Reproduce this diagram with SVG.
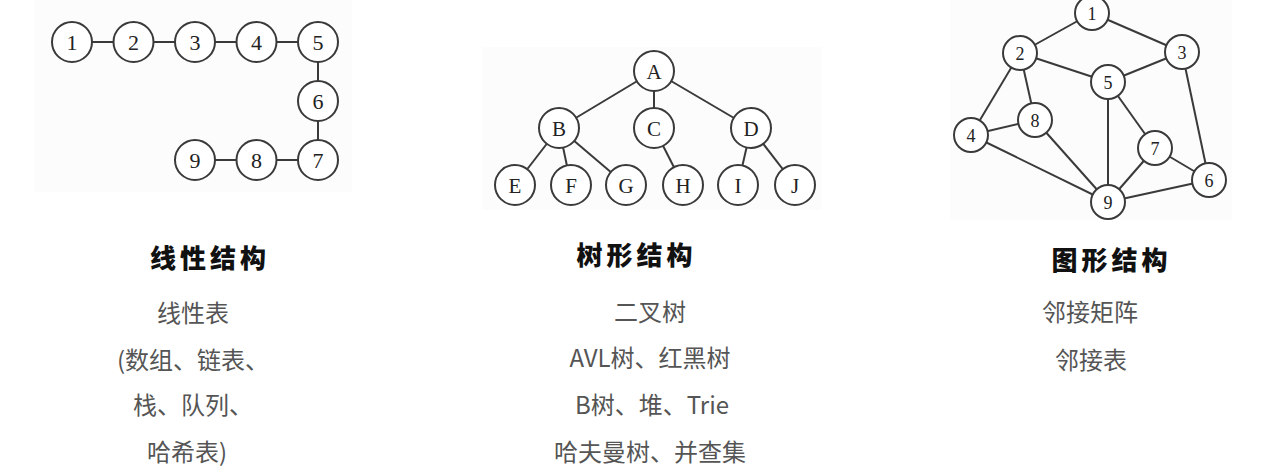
<svg xmlns="http://www.w3.org/2000/svg" width="1277" height="476" viewBox="0 0 1277 476">
<style>
.bg{fill:#fcfcfc}
.n circle{fill:#fff;stroke:#3a3a3a;stroke-width:2}
.n text{font-family:"Liberation Serif",serif;fill:#222;text-anchor:middle}
.lin text{font-size:22px}
.tree text{font-size:21px}
.gr text{font-size:18px}
.edges line{stroke:#3a3a3a;stroke-width:2}
.title{font-family:"Noto Sans CJK SC","Noto Sans CJK JP",sans-serif;font-weight:900;font-size:26px;letter-spacing:4px;fill:#111;text-anchor:middle}
.body{font-family:"Noto Sans CJK SC","Noto Sans CJK JP",sans-serif;font-size:24px;fill:#555;text-anchor:middle}
</style>
<rect width="1277" height="476" fill="#fff"/>
<rect class="bg" x="34" y="0" width="318" height="192"/>
<rect class="bg" x="482" y="47" width="340" height="163"/>
<rect class="bg" x="950" y="0" width="282" height="220"/>

<g id="connectors" class="edges">
  <!-- linear -->
  <line x1="72" y1="42" x2="318" y2="42"/>
  <line x1="318" y1="42" x2="318" y2="160"/>
  <line x1="318" y1="160" x2="195" y2="160"/>
  <!-- tree -->
  <line x1="654" y1="71" x2="559" y2="128"/>
  <line x1="654" y1="71" x2="654" y2="128"/>
  <line x1="654" y1="71" x2="751" y2="128"/>
  <line x1="559" y1="128" x2="515" y2="185"/>
  <line x1="559" y1="128" x2="571" y2="185"/>
  <line x1="559" y1="128" x2="626" y2="185"/>
  <line x1="654" y1="128" x2="683" y2="185"/>
  <line x1="751" y1="128" x2="738" y2="185"/>
  <line x1="751" y1="128" x2="795" y2="185"/>
  <!-- graph -->
  <line x1="1092" y1="13" x2="1020" y2="53"/>
  <line x1="1092" y1="13" x2="1182" y2="52"/>
  <line x1="1020" y1="53" x2="1108" y2="82"/>
  <line x1="1182" y1="52" x2="1108" y2="82"/>
  <line x1="1020" y1="53" x2="971" y2="135"/>
  <line x1="1020" y1="53" x2="1035" y2="120"/>
  <line x1="971" y1="135" x2="1035" y2="120"/>
  <line x1="971" y1="135" x2="1108" y2="202"/>
  <line x1="1035" y1="120" x2="1108" y2="202"/>
  <line x1="1108" y1="82" x2="1108" y2="202"/>
  <line x1="1108" y1="82" x2="1155" y2="148"/>
  <line x1="1155" y1="148" x2="1108" y2="202"/>
  <line x1="1155" y1="148" x2="1209" y2="180"/>
  <line x1="1108" y1="202" x2="1209" y2="180"/>
  <line x1="1182" y1="52" x2="1209" y2="180"/>
</g>

<!-- linear nodes -->
<g class="n lin">
  <g id="l1"><circle cx="72" cy="42" r="20"/><text x="72" y="50">1</text></g>
  <g id="l2"><circle cx="133.5" cy="42" r="20"/><text x="133.5" y="50">2</text></g>
  <g id="l3"><circle cx="195" cy="42" r="20"/><text x="195" y="50">3</text></g>
  <g id="l4"><circle cx="256.5" cy="42" r="20"/><text x="256.5" y="50">4</text></g>
  <g id="l5"><circle cx="318" cy="42" r="20"/><text x="318" y="50">5</text></g>
  <g id="l6"><circle cx="318" cy="101" r="20"/><text x="318" y="109">6</text></g>
  <g id="l7"><circle cx="318" cy="160" r="20"/><text x="318" y="168">7</text></g>
  <g id="l8"><circle cx="256.5" cy="160" r="20"/><text x="256.5" y="168">8</text></g>
  <g id="l9"><circle cx="195" cy="160" r="20"/><text x="195" y="168">9</text></g>
</g>

<!-- tree nodes -->
<g class="n tree">
  <g id="tA"><circle cx="654" cy="71" r="20"/><text x="654" y="78.5">A</text></g>
  <g id="tB"><circle cx="559" cy="128" r="20"/><text x="559" y="135.5">B</text></g>
  <g id="tC"><circle cx="654" cy="128" r="20"/><text x="654" y="135.5">C</text></g>
  <g id="tD"><circle cx="751" cy="128" r="20"/><text x="751" y="135.5">D</text></g>
  <g id="tE"><circle cx="515" cy="185" r="20"/><text x="515" y="192.5">E</text></g>
  <g id="tF"><circle cx="571" cy="185" r="20"/><text x="571" y="192.5">F</text></g>
  <g id="tG"><circle cx="626" cy="185" r="20"/><text x="626" y="192.5">G</text></g>
  <g id="tH"><circle cx="683" cy="185" r="20"/><text x="683" y="192.5">H</text></g>
  <g id="tI"><circle cx="738" cy="185" r="20"/><text x="738" y="192.5">I</text></g>
  <g id="tJ"><circle cx="795" cy="185" r="20"/><text x="795" y="192.5">J</text></g>
</g>

<!-- graph nodes -->
<g class="n gr">
  <g id="g1"><circle cx="1092" cy="13" r="17"/><text x="1092" y="19.5">1</text></g>
  <g id="g2"><circle cx="1020" cy="53" r="17"/><text x="1020" y="59.5">2</text></g>
  <g id="g3"><circle cx="1182" cy="52" r="17"/><text x="1182" y="58.5">3</text></g>
  <g id="g5"><circle cx="1108" cy="82" r="17"/><text x="1108" y="88.5">5</text></g>
  <g id="g8"><circle cx="1035" cy="120" r="17"/><text x="1035" y="126.5">8</text></g>
  <g id="g4"><circle cx="971" cy="135" r="17"/><text x="971" y="141.5">4</text></g>
  <g id="g7"><circle cx="1155" cy="148" r="17"/><text x="1155" y="154.5">7</text></g>
  <g id="g6"><circle cx="1209" cy="180" r="17"/><text x="1209" y="186.5">6</text></g>
  <g id="g9"><circle cx="1108" cy="202" r="17"/><text x="1108" y="208.5">9</text></g>
</g>

<!-- captions -->
<g id="linear-caption">
  <text class="title" x="210" y="268">线性结构</text>
  <text class="body" x="193" y="322">线性表</text>
  <text class="body" x="193" y="369">(数组、链表、</text>
  <text class="body" x="193" y="414">栈、队列、</text>
  <text class="body" x="187" y="461">哈希表)</text>
</g>
<g id="tree-caption">
  <text class="title" x="636.5" y="265">树形结构</text>
  <text class="body" x="650" y="321">二叉树</text>
  <text class="body" x="650" y="367">AVL树、红黑树</text>
  <text class="body" x="652" y="414">B树、堆、Trie</text>
  <text class="body" x="650" y="461">哈夫曼树、并查集</text>
</g>
<g id="graph-caption">
  <text class="title" x="1111.5" y="270">图形结构</text>
  <text class="body" x="1090" y="321">邻接矩阵</text>
  <text class="body" x="1091" y="369">邻接表</text>
</g>
</svg>
